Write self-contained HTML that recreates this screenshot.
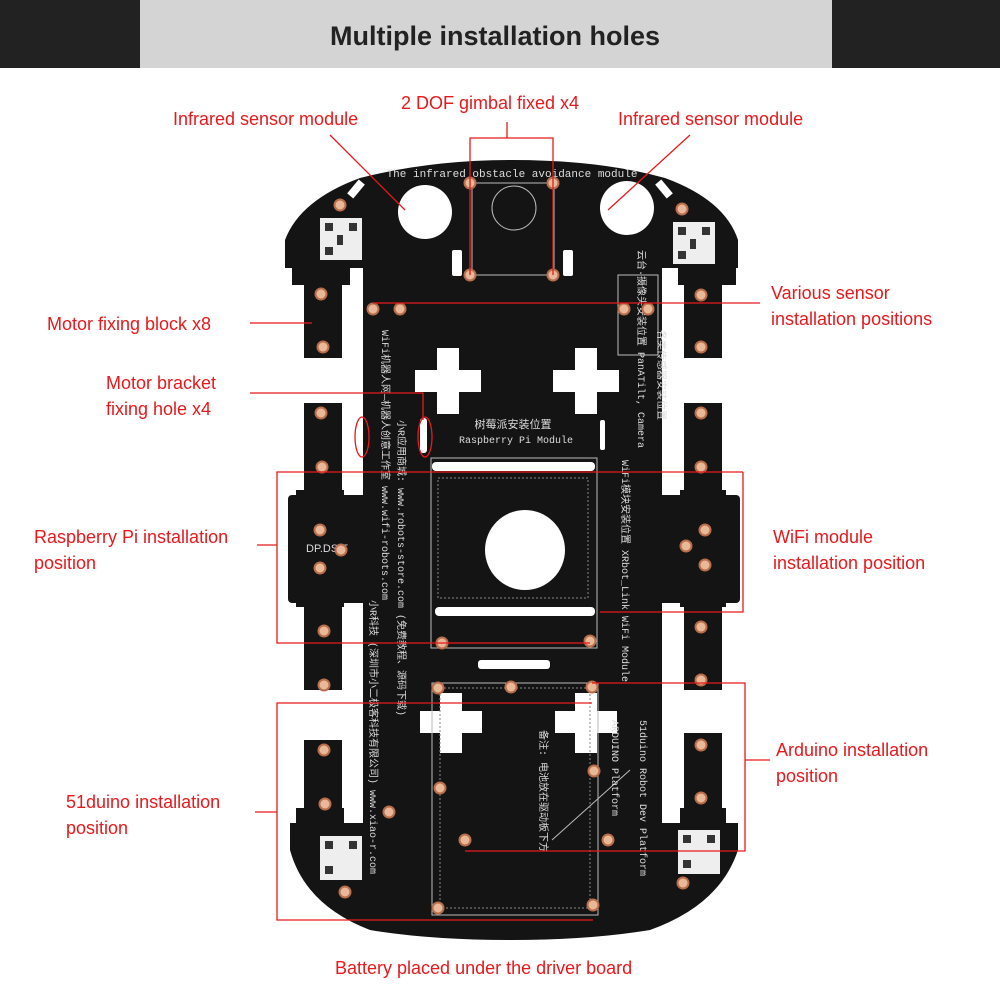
<!DOCTYPE html>
<html><head><meta charset="utf-8"><style>
body{margin:0;background:#fff;width:1000px;height:1000px;overflow:hidden}
svg{display:block}
.l{font-family:"Liberation Sans",sans-serif;font-size:18px;fill:#e8191c}
.pt{font-family:"Liberation Mono","Noto Sans CJK SC",monospace;font-size:10px;fill:#ddd}
</style></head><body>
<svg width="1000" height="1000" viewBox="0 0 1000 1000">
<rect x="0" y="0" width="1000" height="68" fill="#222"/>
<rect x="140" y="0" width="692" height="68" fill="#d4d4d4"/>
<text x="495" y="45" text-anchor="middle" font-family="Liberation Sans,sans-serif" font-weight="bold" font-size="27" fill="#222">Multiple installation holes</text>

<!-- board -->
<g fill="#141414">
<path d="M285 262 L285 240 Q300 200 360 178 Q430 160 512 160 Q600 160 665 178 Q725 200 738 240 L738 268 L662 268 L662 823 L738 823 L738 850 Q720 905 650 930 Q590 940 512 940 Q430 940 370 930 Q305 905 290 850 L290 823 L363 823 L363 268 L285 268 Z"/>
<rect x="288" y="495" width="452" height="108" rx="4"/>
<!-- motor blocks -->
<path d="M292 268 L350 268 L350 285 L342 285 L342 358 L304 358 L304 285 L292 285Z"/>
<path d="M678 268 L736 268 L736 285 L722 285 L722 358 L684 358 L684 285 L678 285Z"/>
<rect x="304" y="403" width="38" height="100"/>
<rect x="684" y="403" width="38" height="100"/>
<rect x="304" y="595" width="38" height="95"/>
<rect x="684" y="595" width="38" height="95"/>
<rect x="304" y="740" width="38" height="90"/>
<rect x="684" y="733" width="38" height="95"/>
<rect x="296" y="585" width="48" height="22"/>
<rect x="680" y="585" width="46" height="22"/>
<rect x="296" y="490" width="48" height="15"/>
<rect x="680" y="490" width="46" height="15"/>
<rect x="296" y="808" width="48" height="20"/>
<rect x="680" y="808" width="46" height="20"/>
</g>
<!-- white holes -->
<g fill="#fff">
<circle cx="425" cy="212" r="27"/><circle cx="627" cy="208" r="27"/>
<circle cx="525" cy="550" r="40"/>
<path d="M437 348h22v22h22v22h-22v22h-22v-22h-22v-22h22z"/>
<path d="M575 348h22v22h22v22h-22v22h-22v-22h-22v-22h22z"/>
<path d="M440 693h22v18h20v22h-20v20h-22v-20h-20v-22h20z"/>
<path d="M575 693h22v18h20v22h-20v20h-22v-20h-20v-22h20z"/>
<rect x="432" y="462" width="163" height="9" rx="4"/>
<rect x="435" y="607" width="160" height="9" rx="4"/>
<rect x="478" y="660" width="72" height="9" rx="3"/>
<rect x="452" y="250" width="10" height="26" rx="2"/>
<rect x="563" y="250" width="10" height="26" rx="2"/>
<rect x="420" y="418" width="7" height="35" rx="3"/>
<rect x="600" y="420" width="5" height="30" rx="2"/>
<rect x="352" y="180" width="8" height="18" transform="rotate(40 356 189)"/>
<rect x="660" y="180" width="8" height="18" transform="rotate(-40 664 189)"/>
</g>
<!-- QR codes -->
<g fill="#eee">
<rect x="320" y="218" width="42" height="42"/><rect x="673" y="222" width="42" height="42"/>
<rect x="320" y="836" width="42" height="44"/><rect x="678" y="830" width="42" height="44"/>
</g>
<g fill="#333">
<rect x="325" y="223" width="8" height="8"/><rect x="349" y="223" width="8" height="8"/><rect x="325" y="247" width="8" height="8"/><rect x="337" y="235" width="6" height="10"/>
<rect x="678" y="227" width="8" height="8"/><rect x="702" y="227" width="8" height="8"/><rect x="678" y="251" width="8" height="8"/><rect x="690" y="239" width="6" height="10"/>
<rect x="325" y="841" width="8" height="8"/><rect x="349" y="841" width="8" height="8"/><rect x="325" y="866" width="8" height="8"/>
<rect x="683" y="835" width="8" height="8"/><rect x="707" y="835" width="8" height="8"/><rect x="683" y="860" width="8" height="8"/>
</g>
<!-- silkscreen outlines -->
<g fill="none" stroke="#bbb" stroke-width="1">
<rect x="472" y="183" width="82" height="92"/>
<circle cx="514" cy="208" r="22"/>
<rect x="431" y="458" width="166" height="190"/>
<rect x="432" y="683" width="166" height="232"/>
<rect x="618" y="275" width="40" height="80"/>
<line x1="552" y1="840" x2="630" y2="770"/>
</g>
<g fill="none" stroke="#888" stroke-width="1" stroke-dasharray="2 2">
<rect x="438" y="478" width="150" height="120"/>
<rect x="440" y="688" width="150" height="220"/>
</g>
<text x="512" y="177" text-anchor="middle" font-family="Liberation Mono,monospace" font-size="11" fill="#ddd">The infrared obstacle avoidance module</text>
<text x="513" y="428" text-anchor="middle" font-family="Noto Sans CJK SC,sans-serif" font-size="11" fill="#ddd">树莓派安装位置</text>
<text x="516" y="443" text-anchor="middle" font-family="Liberation Mono,monospace" font-size="10" fill="#ddd">Raspberry Pi Module</text>
<text x="306" y="552" font-family="Liberation Sans,sans-serif" font-size="11" fill="#ddd">DP.DS.F</text>
<g font-family="Liberation Mono,Noto Sans CJK SC,monospace" font-size="10" fill="#ddd">
<text transform="translate(382 330) rotate(90)">WiFi机器人网—机器人创意工作室  www.wifi-robots.com</text>
<text transform="translate(398 420) rotate(90)">小R应用商城: www.robots-store.com (免费教程、源码下载)</text>
<text transform="translate(370 600) rotate(90)">小R科技 (深圳市小二极客科技有限公司)  www.xiao-r.com</text>
<text transform="translate(622 460) rotate(90)">WiFi模块安装位置  XRbot_Link WiFi Module</text>
<text transform="translate(638 250) rotate(90)">云台·摄像头安装位置 PanATilt, Camera</text>
<text transform="translate(640 720) rotate(90)">51duino Robot Dev Platform</text>
<text transform="translate(612 720) rotate(90)">ARDUINO Platform</text>
<text transform="translate(540 730) rotate(90)">备注: 电池放在驱动板下方</text>
<text transform="translate(658 330) rotate(90)">各类传感器安装位置</text>
</g>
<!-- copper holes -->
<g fill="#e9b898" stroke="#b86e4c" stroke-width="2">
<circle cx="470" cy="183" r="5.5"/><circle cx="553" cy="183" r="5.5"/><circle cx="470" cy="275" r="5.5"/><circle cx="553" cy="275" r="5.5"/>
<circle cx="340" cy="205" r="5.5"/><circle cx="682" cy="209" r="5.5"/>
<circle cx="373" cy="309" r="5.5"/><circle cx="400" cy="309" r="5.5"/><circle cx="624" cy="309" r="5.5"/><circle cx="648" cy="309" r="5.5"/>
<circle cx="321" cy="294" r="5.5"/><circle cx="323" cy="347" r="5.5"/><circle cx="701" cy="295" r="5.5"/><circle cx="701" cy="347" r="5.5"/>
<circle cx="321" cy="413" r="5.5"/><circle cx="322" cy="467" r="5.5"/><circle cx="701" cy="413" r="5.5"/><circle cx="701" cy="467" r="5.5"/>
<circle cx="320" cy="530" r="5.5"/><circle cx="341" cy="550" r="5.5"/><circle cx="320" cy="568" r="5.5"/>
<circle cx="705" cy="530" r="5.5"/><circle cx="686" cy="546" r="5.5"/><circle cx="705" cy="565" r="5.5"/>
<circle cx="324" cy="631" r="5.5"/><circle cx="324" cy="685" r="5.5"/><circle cx="701" cy="627" r="5.5"/><circle cx="701" cy="680" r="5.5"/>
<circle cx="324" cy="750" r="5.5"/><circle cx="325" cy="804" r="5.5"/><circle cx="701" cy="745" r="5.5"/><circle cx="701" cy="798" r="5.5"/>
<circle cx="442" cy="643" r="5.5"/><circle cx="590" cy="641" r="5.5"/>
<circle cx="438" cy="688" r="5.5"/><circle cx="511" cy="687" r="5.5"/><circle cx="592" cy="687" r="5.5"/>
<circle cx="594" cy="771" r="5.5"/><circle cx="440" cy="788" r="5.5"/><circle cx="389" cy="812" r="5.5"/>
<circle cx="465" cy="840" r="5.5"/><circle cx="608" cy="840" r="5.5"/>
<circle cx="345" cy="892" r="5.5"/><circle cx="683" cy="883" r="5.5"/>
<circle cx="438" cy="908" r="5.5"/><circle cx="593" cy="905" r="5.5"/>
</g>
<!-- red annotations -->
<g stroke="#e8191c" stroke-width="1.3" fill="none">
<line x1="330" y1="135" x2="405" y2="210"/>
<line x1="690" y1="135" x2="608" y2="210"/>
<line x1="507" y1="122" x2="507" y2="138"/>
<polyline points="470,275 470,138 553,138 553,275"/>
<line x1="373" y1="303" x2="760" y2="303"/>
<line x1="250" y1="323" x2="312" y2="323"/>
<polyline points="250,393 423,393 423,420"/>
<ellipse cx="362" cy="437" rx="7" ry="20"/>
<ellipse cx="425" cy="437" rx="7" ry="20"/>
<polyline points="257,545 277,545"/>
<polyline points="743,472 277,472 277,643 590,643"/>
<polyline points="600,612 743,612 743,472"/>
<polyline points="592,683 745,683 745,851 465,851"/>
<line x1="745" y1="760" x2="770" y2="760"/>
<polyline points="592,703 277,703 277,920 593,920"/>
<line x1="255" y1="812" x2="277" y2="812"/>
</g>
<text class="l" x="173" y="125">Infrared sensor module</text>
<text class="l" x="401" y="109">2 DOF gimbal fixed x4</text>
<text class="l" x="618" y="125">Infrared sensor module</text>
<text class="l" x="47" y="330">Motor fixing block x8</text>
<text class="l" x="771" y="299">Various sensor</text>
<text class="l" x="771" y="325">installation positions</text>
<text class="l" x="106" y="389">Motor bracket</text>
<text class="l" x="106" y="415">fixing hole x4</text>
<text class="l" x="34" y="543">Raspberry Pi installation</text>
<text class="l" x="34" y="569">position</text>
<text class="l" x="773" y="543">WiFi module</text>
<text class="l" x="773" y="569">installation position</text>
<text class="l" x="776" y="756">Arduino installation</text>
<text class="l" x="776" y="782">position</text>
<text class="l" x="66" y="808">51duino installation</text>
<text class="l" x="66" y="834">position</text>
<text class="l" x="335" y="974">Battery placed under the driver board</text>
</svg>
</body></html>
